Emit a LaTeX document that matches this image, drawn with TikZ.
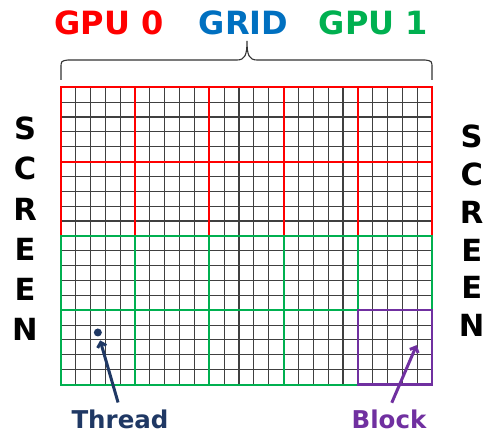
\documentclass[tikz,border=0pt]{standalone}
\usepackage{fontspec}
\setmainfont{DejaVu Sans}
\usetikzlibrary{arrows.meta}

\definecolor{gpured}{HTML}{FF0000}
\definecolor{gpugreen}{HTML}{00B050}
\definecolor{gridblue}{HTML}{0070C0}
\definecolor{blockpurple}{HTML}{7030A0}
\definecolor{threadnavy}{HTML}{1F3864}

\tikzset{
  threadline/.style={black!75, line width=1.1pt},
  gpuzero/.style={gpured, line width=2pt},
  gpuone/.style={gpugreen, line width=2pt},
  blockline/.style={blockpurple, line width=2.2pt},
  title/.style={font=\bfseries\fontsize{32}{32}\selectfont, anchor=base, inner sep=0pt},
  screen/.style={font=\bfseries\fontsize{30.5}{30.5}\selectfont, anchor=base, inner sep=0pt},
  lbl/.style={font=\bfseries\fontsize{24.5}{24.5}\selectfont, anchor=base, inner sep=0pt},
  pointer/.style={->, line width=3pt},
}

\begin{document}
\begin{tikzpicture}[x=1pt, y=-1pt, >={Straight Barb[length=4.5pt,width=9pt]}]
  \useasboundingbox (0,0) rectangle (485,433);

  % titles above the brace
  \node[title, gpured] (gpu0) at (109,35) {GPU 0};
  \node[title, gridblue] (grid) at (243.5,35) {GRID};
  \node[title, gpugreen] (gpu1) at (373.5,35) {GPU 1};

  % brace over the whole grid
  \draw[black!80, line width=1.1pt]
    (61,80) -- (61,68) .. controls (61,61) .. (68,60) -- (237,60)
    .. controls (245,60) and (247,55) .. (247,41)
    .. controls (247,55) and (249,60) .. (257,60) -- (425,60)
    .. controls (432,61) .. (432,68) -- (432,80);

  % threads, then blocks on top
  \begin{scope}[shift={(60.7,87.3)}, x=14.86pt, y=-14.86pt]
    \foreach \i in {1,...,24}
      \draw[threadline] (\i,0) -- (\i,20);
    \foreach \j in {1,...,19}
      \draw[threadline] (0,\j) -- (25,\j);
    \foreach \bx in {0,...,4}
      \foreach \by in {0,1}
        \draw[gpuzero] (5*\bx,5*\by) rectangle +(5,5);
    \foreach \bx in {0,...,4}
      \foreach \by in {2,3}
        \draw[gpuone] (5*\bx,5*\by) rectangle +(5,5);
    \draw[blockline] (20,15) rectangle (25,20);
    \node[circle, fill=threadnavy, minimum size=8pt, inner sep=0pt] (thread) at (2.5,16.5) {};
    \coordinate (blockpt) at (23.95,17.35);
  \end{scope}

  % SCREEN on both sides
  \foreach \l [count=\i] in {S,C,R,E,E,N} {
    \node[screen] (sl\i) at (25,{140+40*(\i-1)}) {\l};
    \node[screen] (sr\i) at (471.7,{148+37.7*(\i-1)}) {\l};
  }

  % labels with pointers
  \node[lbl, threadnavy] (threadlbl) at (120,428) {Thread};
  \node[lbl, blockpurple] (blocklbl) at (389,428) {Block};
  \draw[pointer, threadnavy, shorten <=7pt, shorten >=4pt] (threadlbl.north) -- (thread);
  \draw[pointer, blockpurple, shorten <=7pt] (blocklbl.north) -- (blockpt);
\end{tikzpicture}
\end{document}
